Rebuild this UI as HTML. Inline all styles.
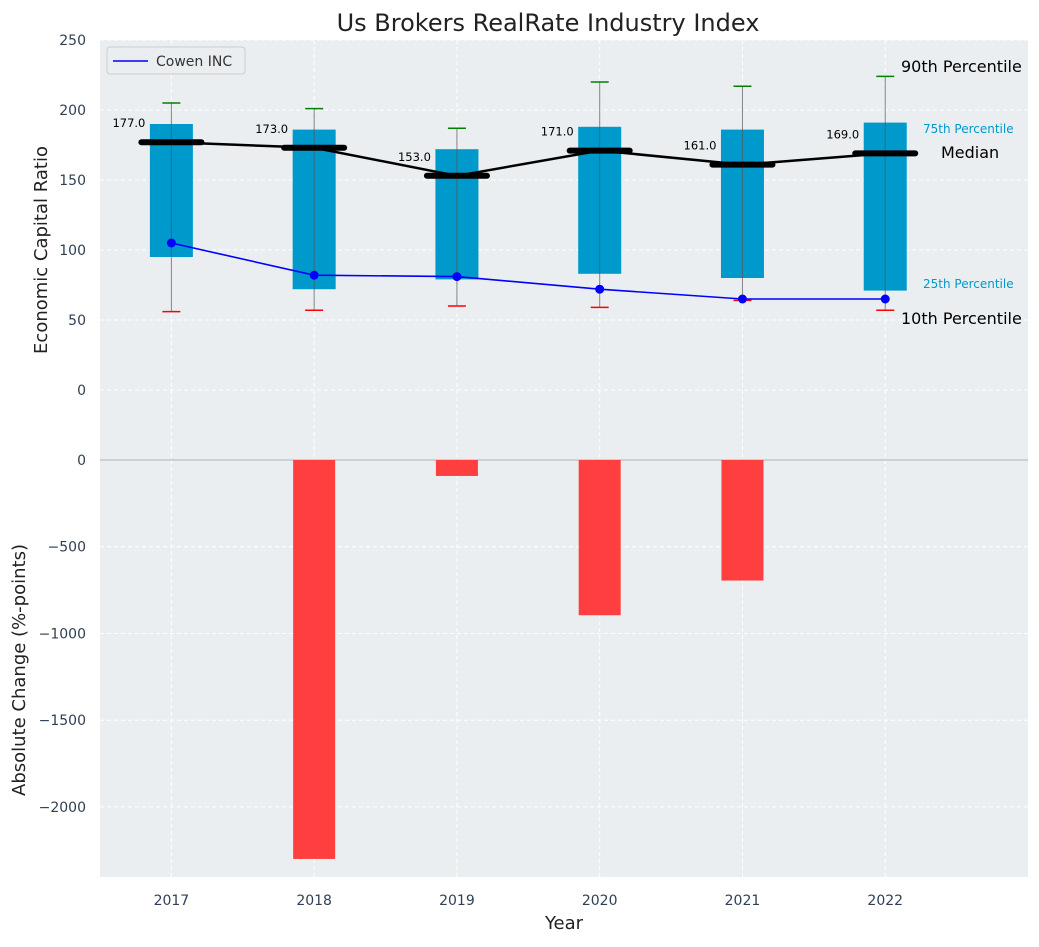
<!DOCTYPE html>
<html><head><meta charset="utf-8"><style>
body{margin:0;background:#fff;font-family:"Liberation Sans","DejaVu Sans",sans-serif}
svg text{font-family:"DejaVu Sans","Liberation Sans",sans-serif}
</style></head><body>
<svg id="c" width="1039" height="942"></svg>
<script>
const years=[2017,2018,2019,2020,2021,2022];
const p10=[56,57,60,59,64,57];
const p25=[95,72,79,83,80,71];
const median=[177,173,153,171,161,169];
const p75=[190,186,172,188,186,191];
const p90=[205,201,187,220,217,224];
const cowen=[105,82,81,72,65,65];
const change=[0,-2300,-92,-895,-695,0];
const topTicks=[0,50,100,150,200,250];
const botTicks=[-2000,-1500,-1000,-500,0];

const NS='http://www.w3.org/2000/svg';
const svg=document.getElementById('c');
function el(t,a,txt){const e=document.createElementNS(NS,t);for(const k in a)e.setAttribute(k,a[k]);if(txt!==undefined)e.textContent=txt;svg.appendChild(e);return e;}
const L=100,R=1028,T1=40,B1=460,B2=877;
const x=v=>L+(v-2016.5)/(2023-2016.5)*(R-L);
const y1=v=>B1-(v+50)/300*(B1-T1);
const y2=v=>B1+(v/-2404)*(B2-B1);
let e;
e=el('rect',{x:L,y:T1,width:R-L,height:B1-T1,fill:'#eaeef0'});

e=el('rect',{x:L,y:B1,width:R-L,height:B2-B1,fill:'#eaeef0'});

years.forEach(v=>{el('line',{x1:x(v),x2:x(v),y1:T1,y2:B2,stroke:'#fff','stroke-dasharray':'4,3','stroke-width':1});
 e=el('text',{x:x(v),y:905,'text-anchor':'middle','font-size':14,fill:'#2f3f55'},v);
 });
topTicks.forEach(v=>{el('line',{x1:L,x2:R,y1:y1(v),y2:y1(v),stroke:'#fff','stroke-dasharray':'4,3'});
 e=el('text',{x:86,y:y1(v)+5,'text-anchor':'end','font-size':14,fill:'#2f3f55'},v);
 });
botTicks.forEach(v=>{el('line',{x1:L,x2:R,y1:y2(v),y2:y2(v),stroke:'#fff','stroke-dasharray':'4,3'});
 e=el('text',{x:86,y:y2(v)+5,'text-anchor':'end','font-size':14,fill:'#2f3f55'},v===0?'0':'\u2212'+Math.abs(v));
 });
el('line',{x1:L,x2:R,y1:B1,y2:B1,stroke:'#b0b0b0','stroke-width':1});
years.forEach((v,i)=>{if(change[i]!==0){e=el('rect',{x:x(v)-21,y:B1,width:42,height:y2(change[i])-B1,fill:'#ff3f3f'});
 }});
years.forEach((v,i)=>{
 e=el('rect',{x:x(v)-21.5,y:y1(p75[i]),width:43,height:y1(p25[i])-y1(p75[i]),fill:'#0099cc'});
 
 el('line',{x1:x(v),x2:x(v),y1:y1(p10[i]),y2:y1(p90[i]),stroke:'#555','stroke-width':1,opacity:0.7});
 el('line',{x1:x(v)-9,x2:x(v)+9,y1:y1(p10[i]),y2:y1(p10[i]),stroke:'red','stroke-width':1.5});
 el('line',{x1:x(v)-9,x2:x(v)+9,y1:y1(p90[i]),y2:y1(p90[i]),stroke:'green','stroke-width':1.5});
});
el('polyline',{points:years.map((v,i)=>x(v)+','+y1(median[i])).join(' '),fill:'none',stroke:'#000','stroke-width':2.5});
years.forEach((v,i)=>{e=el('line',{x1:x(v)-30,x2:x(v)+30,y1:y1(median[i]),y2:y1(median[i]),stroke:'#000','stroke-width':6,'stroke-linecap':'round'});
 
 e=el('text',{x:x(v)-26,y:y1(median[i])-15,'text-anchor':'end','font-size':11.5,fill:'#000'},median[i].toFixed(1));
 });
e=el('polyline',{points:years.map((v,i)=>x(v)+','+y1(cowen[i])).join(' '),fill:'none',stroke:'blue','stroke-width':1.6});

years.forEach((v,i)=>{e=el('circle',{cx:x(v),cy:y1(cowen[i]),r:4.5,fill:'blue'});
 });
const ann=[['90th Percentile',901,72,16,'#000'],['75th Percentile',923,133,12,'#0099cc'],['Median',941,158,16,'#000'],['25th Percentile',923,288,12,'#0099cc'],['10th Percentile',901,324,16,'#000']];
ann.forEach(a=>{e=el('text',{x:a[1],y:a[2],'font-size':a[3],fill:a[4]},a[0]);});
e=el('rect',{x:107,y:47,width:138,height:27,rx:3,fill:'#eaeef0',stroke:'#ccc'});

el('line',{x1:113,x2:148,y1:61,y2:61,stroke:'blue','stroke-width':1.6});
e=el('text',{x:156,y:66,'font-size':14,fill:'#333'},'Cowen INC');

e=el('text',{x:548,y:31,'text-anchor':'middle','font-size':24,fill:'#222'},'Us Brokers RealRate Industry Index');

e=el('text',{x:564,y:929,'text-anchor':'middle','font-size':18,fill:'#222'},'Year');

e=el('text',{x:0,y:0,'text-anchor':'middle','font-size':18,fill:'#222',transform:'translate(47,250) rotate(-90)'},'Economic Capital Ratio');

e=el('text',{x:0,y:0,'text-anchor':'middle','font-size':18,fill:'#222',transform:'translate(25,670) rotate(-90)'},'Absolute Change (%-points)');

</script>
</body></html>
